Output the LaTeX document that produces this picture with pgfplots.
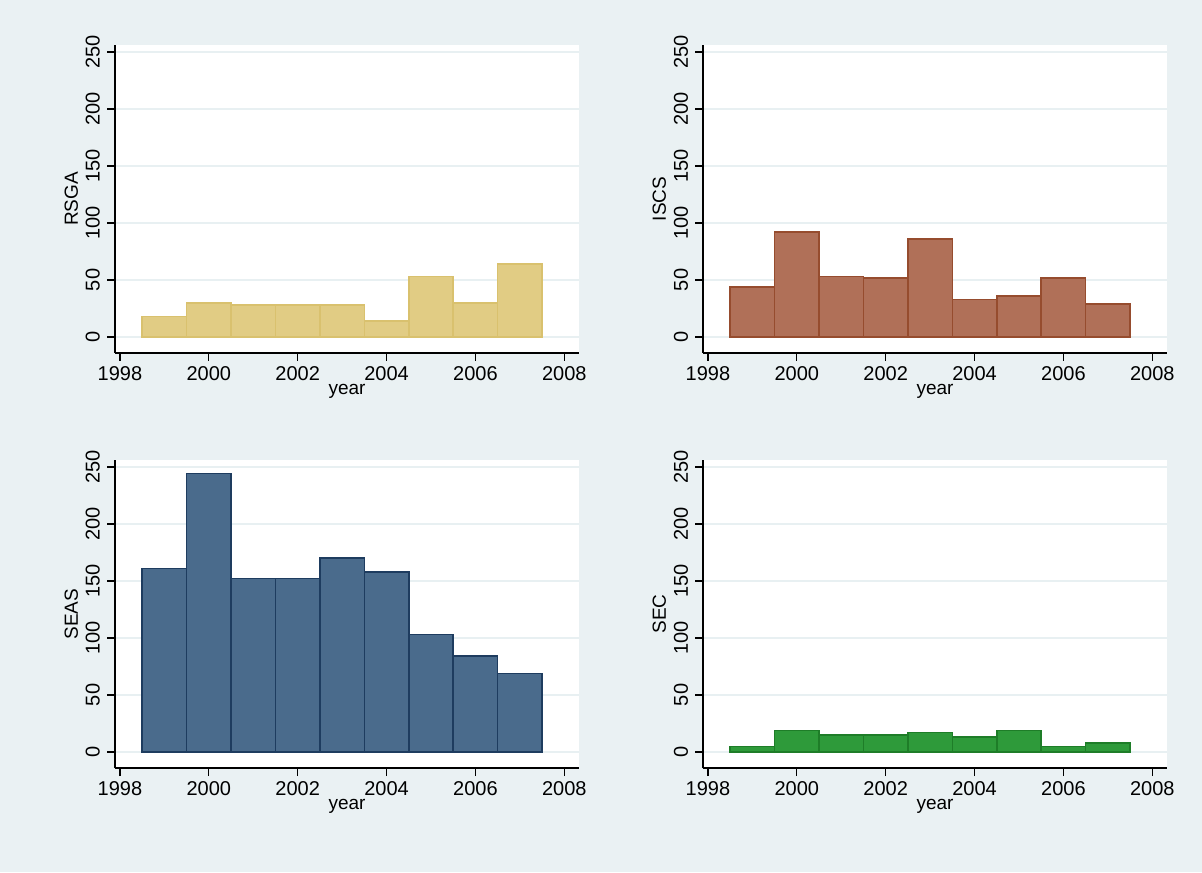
\documentclass[border=0pt]{standalone}
\usepackage{pgfplots}
\pgfplotsset{compat=1.18}
\usepackage{fontspec}
\setmainfont{Liberation Sans}
\definecolor{bg}{HTML}{EAF1F3}
\definecolor{gridc}{HTML}{E8F0F2}
\pgfplotsset{
 panel/.style={
  scale only axis, width=232pt, height=154pt, anchor=south west,
  xmin=1997.89, xmax=2008.33, ymin=-14, ymax=256,
  axis x line*=bottom, axis y line*=left,
  axis line style={line width=0.8pt, black, -},
  tick style={black, line width=0.7pt}, tick align=outside, major tick length=4pt,
  xtick={1998,2000,...,2008}, ytick={0,50,...,250},
  x tick label style={/pgf/number format/1000 sep={}, font=\fontsize{10}{10}\selectfont, yshift=1pt},
  y tick label style={rotate=90, anchor=south, font=\fontsize{10}{10}\selectfont, xshift=0pt},
  /pgf/number format/assume math mode=true,
  ymajorgrids, grid style={gridc, line width=0.8pt},
  axis background/.style={fill=white},
  xlabel={year}, xlabel style={font=\fontsize{9.5}{9.5}\selectfont, yshift=5pt},
  ylabel style={font=\fontsize{9.5}{9.5}\selectfont, yshift=-3pt},
  ybar, bar width=1, bar shift=0,
 }
}
\begin{document}
\begin{tikzpicture}
\fill[bg] (0pt,0pt) rectangle (601pt,436pt);
\begin{axis}[panel, at={(57.5pt,259.5pt)}, ylabel={RSGA}]
\addplot[fill={rgb,255:red,225;green,204;blue,132}, draw={rgb,255:red,217;green,193;blue,110}, line width=0.8pt] coordinates {(1999,18) (2000,30) (2001,28) (2002,28) (2003,28) (2004,14) (2005,53) (2006,30) (2007,64)};
\end{axis}
\begin{axis}[panel, at={(351.5pt,259.5pt)}, ylabel={ISCS}]
\addplot[fill={rgb,255:red,176;green,112;blue,88}, draw={rgb,255:red,150;green,76;blue,46}, line width=0.8pt] coordinates {(1999,44) (2000,92) (2001,53) (2002,52) (2003,86) (2004,33) (2005,36) (2006,52) (2007,29)};
\end{axis}
\begin{axis}[panel, at={(57.5pt,52pt)}, ylabel={SEAS}]
\addplot[fill={rgb,255:red,74;green,107;blue,140}, draw={rgb,255:red,30;green,60;blue,95}, line width=0.8pt] coordinates {(1999,161) (2000,244) (2001,152) (2002,152) (2003,170) (2004,158) (2005,103) (2006,84) (2007,69)};
\end{axis}
\begin{axis}[panel, at={(351.5pt,52pt)}, ylabel={SEC}]
\addplot[fill={rgb,255:red,46;green,154;blue,58}, draw={rgb,255:red,30;green,125;blue,40}, line width=0.8pt] coordinates {(1999,5) (2000,19) (2001,15) (2002,15) (2003,17) (2004,13) (2005,19) (2006,5) (2007,8)};
\end{axis}
\end{tikzpicture}
\end{document}
